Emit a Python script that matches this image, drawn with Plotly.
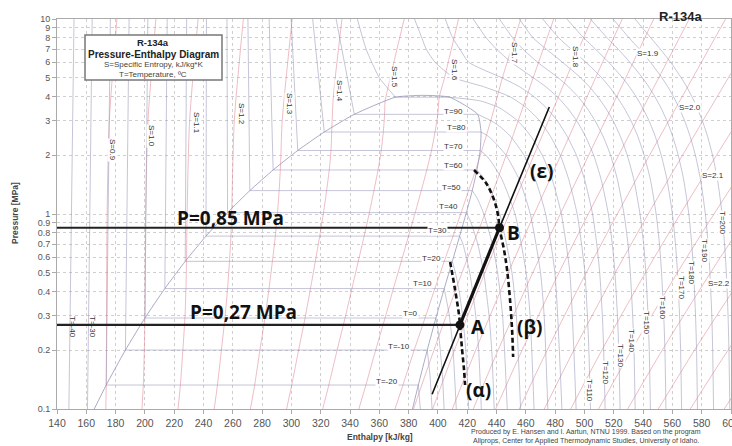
import plotly.graph_objects as go

# ---------------- DATA (R-134a) ----------------
# saturation dome: pressure [MPa], liquid / vapour enthalpy [kJ/kg]
sat_T  = [-26.4, -20, -10, 0, 10, 20, 30, 40, 50, 60, 70, 80, 90, 100]
sat_P  = [0.1, 0.1327, 0.2006, 0.2928, 0.4146, 0.5717, 0.7702, 1.0166, 1.3179, 1.6818, 2.1168, 2.6332, 3.2442, 3.972]
sat_hf = [165.4, 173.6, 186.7, 200.0, 213.6, 227.5, 241.7, 256.4, 271.6, 287.5, 304.3, 322.4, 342.9, 371.0]
sat_hg = [382.6, 386.6, 392.7, 398.6, 404.3, 409.8, 414.8, 419.4, 423.4, 426.6, 428.8, 429.4, 427.1, 408.0]
crit_P = 4.059
crit_h = 389.6

# liquid isotherms (T=-40..90): lower end (P, h) and h at 10 MPa
liq_T   = [-40, -30, -20, -10, 0, 10, 20, 30, 40, 50, 60, 70, 80, 90]
liq_P0  = [0.1, 0.1, 0.1327, 0.2006, 0.2928, 0.4146, 0.5717, 0.7702, 1.0166, 1.3179, 1.6818, 2.1168, 2.6332, 3.2442]
liq_h0  = [148.1, 160.8, 173.6, 186.7, 200.0, 213.6, 227.5, 241.7, 256.4, 271.6, 287.5, 304.3, 322.4, 342.9]
liq_h10 = [151.6, 164.0, 176.4, 189.2, 202.0, 215.2, 228.5, 242.0, 256.0, 270.3, 284.8, 299.8, 314.5, 330.5]
iso_T100_liq = [(3.972, 371.0), (5, 360.0), (7, 351.0), (10, 345.0)]

# vapour isotherms, (P, h) pairs
iso_Tm20 = [(0.1, 388.0), (0.1327, 386.6)]
iso_Tm10 = [(0.1, 396.0), (0.15, 394.5), (0.2006, 392.7)]
iso_T0   = [(0.1, 404.2), (0.15, 403.0), (0.2, 401.6), (0.25, 400.2), (0.2928, 398.6)]
iso_T10  = [(0.1, 412.5), (0.2, 410.3), (0.3, 407.8), (0.4146, 404.3)]
iso_T20  = [(0.1, 421.0), (0.2, 419.0), (0.3, 416.8), (0.4, 414.5), (0.5, 411.9), (0.5717, 409.8)]
iso_T30  = [(0.1, 429.6), (0.2, 427.8), (0.3, 425.8), (0.5, 421.7), (0.7, 417.1), (0.7702, 414.8)]
iso_T40  = [(0.1, 438.4), (0.2, 436.7), (0.3, 434.9), (0.5, 431.2), (0.7, 427.2), (0.9, 422.6), (1.0166, 419.4)]
iso_T50  = [(0.1, 447.3), (0.3, 444.1), (0.5, 440.7), (0.7, 437.1), (1.0, 431.3), (1.2, 426.9), (1.3179, 423.4)]
iso_T60  = [(0.1, 456.4), (0.3, 453.5), (0.5, 450.5), (1.0, 442.2), (1.3, 436.5), (1.5, 432.0), (1.6818, 426.6)]
iso_T70  = [(0.1, 465.6), (0.3, 462.9), (0.5, 460.2), (1.0, 452.6), (1.5, 443.8), (1.8, 437.5), (2.0, 432.8), (2.1168, 428.8)]
iso_T80  = [(0.1, 475.0), (0.3, 472.5), (0.5, 470.0), (1.0, 463.0), (1.5, 455.5), (2.0, 446.5), (2.3, 439.5), (2.5, 434.5), (2.6332, 429.4)]
iso_T90  = [(0.1, 484.6), (0.5, 479.8), (1.0, 473.5), (1.5, 466.5), (2.0, 458.8), (2.5, 449.5), (2.8, 442.5), (3.0, 436.5), (3.2442, 427.1)]
iso_T100 = [(0.1, 494.3), (0.5, 490.0), (1.0, 484.2), (1.5, 478.0), (2.0, 471.2), (2.5, 463.5), (3.0, 454.5), (3.5, 442.0), (3.8, 429.0), (3.972, 408.0)]

# supercritical / hot isotherms on a shared pressure list
P_SC   = [0.1, 0.2, 0.3, 0.5, 0.7, 1, 1.5, 2, 2.5, 3, 3.5, 4, 4.5, 5, 6, 7, 8, 10]
h_T110 = [504.1, 503.0, 502.0, 500.3, 498.0, 495.0, 489.3, 483.5, 476.8, 469.5, 460.5, 449.0, 431.0, 411.0, 398.0, 392.0, 389.0, 384.0]
h_T120 = [514.1, 513.1, 512.2, 510.4, 508.4, 505.5, 500.1, 494.5, 488.2, 481.5, 474.0, 465.5, 455.5, 443.5, 421.0, 415.0, 410.0, 405.0]
h_T130 = [524.3, 523.4, 522.5, 520.8, 519.0, 516.3, 511.4, 506.3, 500.7, 494.8, 488.3, 481.3, 473.5, 465.0, 450.0, 440.0, 433.0, 424.0]
h_T140 = [534.6, 533.8, 532.9, 531.3, 529.7, 527.0, 522.5, 517.8, 512.7, 507.3, 501.6, 495.5, 489.0, 482.0, 468.0, 458.0, 451.0, 442.0]
h_T150 = [545.0, 544.2, 543.4, 541.9, 540.4, 537.9, 533.7, 529.2, 524.5, 519.6, 514.4, 508.9, 503.2, 497.3, 485.0, 474.0, 465.0, 455.5]
h_T160 = [555.6, 554.9, 554.1, 552.6, 551.2, 548.9, 545.0, 540.7, 536.4, 531.8, 527.0, 522.0, 516.9, 511.7, 501.0, 491.0, 482.5, 471.5]
h_T170 = [566.3, 565.6, 564.9, 563.5, 562.1, 560.0, 556.3, 552.4, 548.3, 544.1, 539.7, 535.2, 530.6, 525.9, 516.5, 507.5, 499.5, 488.0]
h_T180 = [577.1, 576.5, 575.8, 574.5, 573.2, 571.2, 567.7, 564.0, 560.2, 556.3, 552.2, 548.0, 543.8, 539.5, 531.0, 523.0, 515.5, 504.0]
h_T190 = [588.1, 587.5, 586.9, 585.6, 584.4, 582.5, 579.2, 575.7, 572.1, 568.4, 564.6, 560.7, 556.8, 552.8, 545.0, 537.5, 530.5, 519.5]
h_T200 = [599.2, 598.6, 598.0, 596.8, 595.6, 593.9, 590.8, 587.4, 584.0, 580.5, 576.9, 573.3, 569.7, 566.0, 558.8, 551.8, 545.3, 534.5]

# isentropes, (P, h) pairs
isen_090 = [(0.1, 173.3), (0.1327, 173.6), (1, 174.2), (3, 175.7), (10, 180.9)]
isen_100 = [(0.1, 198.0), (0.1327, 198.9), (0.2006, 199.6), (0.2928, 200.0), (1, 200.5), (3, 202.1), (10, 207.5)]
isen_110 = [(0.1, 222.6), (0.1327, 224.2), (0.2006, 225.9), (0.2928, 227.3), (0.4146, 228.0), (0.58, 228.4), (1, 228.8), (3, 230.5), (10, 236.3)]
isen_120 = [(0.1, 247.3), (0.1327, 249.5), (0.2006, 252.2), (0.2928, 254.6), (0.4146, 256.4), (0.5717, 257.7), (0.7702, 258.7), (1.07, 259.3), (3, 261.0), (10, 267.2)]
isen_130 = [(0.1, 272.0), (0.1327, 274.9), (0.2006, 278.5), (0.2928, 281.9), (0.4146, 284.7), (0.5717, 287.0), (0.7702, 289.0), (1.0166, 290.5), (1.3179, 291.6), (1.8, 292.6), (3, 293.7), (10, 300.5)]
isen_140 = [(0.1, 296.7), (0.1327, 300.2), (0.2006, 304.9), (0.2928, 309.3), (0.4146, 313.0), (0.5717, 316.3), (0.7702, 319.3), (1.0166, 321.9), (1.3179, 324.0), (1.6818, 325.8), (2.1168, 327.0), (2.78, 327.6), (4, 328.6), (10, 334.5)]
isen_150 = [(0.1, 321.3), (0.1327, 325.5), (0.2006, 331.2), (0.2928, 336.6), (0.4146, 341.3), (0.5717, 345.6), (0.7702, 349.6), (1.0166, 353.2), (1.3179, 356.3), (1.6818, 359.1), (2.1168, 361.3), (2.6332, 362.7), (3.2442, 363.6), (3.78, 363.9), (5, 367.5), (7, 372.0), (10, 377.0)]
isen_160 = [(0.1, 346.0), (0.1327, 350.8), (0.2006, 357.5), (0.2928, 363.9), (0.4146, 369.6), (0.5717, 375.0), (0.7702, 379.9), (1.0166, 384.5), (1.3179, 388.6), (1.6818, 392.4), (2.1168, 395.6), (2.6332, 398.0), (3.2442, 399.9), (3.972, 400.9), (5, 404.5), (6, 407.0), (8, 411.0), (10, 414.0)]
isen_170 = [(0.1, 370.7), (0.1327, 376.1), (0.2006, 383.8), (0.2928, 391.2), (0.4146, 397.9), (0.5717, 404.3), (0.7702, 410.3), (1.0166, 415.8), (1.3179, 420.9), (1.6818, 425.8), (1.84, 427.4), (3, 436.0), (5, 444.0), (7, 450.0), (10, 456.5)]
isen_175 = [(0.1, 383.3), (0.2, 397.2), (0.5, 416.4), (1, 432.0), (2, 446.5), (5, 465.0), (10, 479.0)]
isen_180 = [(0.1, 396.4), (0.2, 411.2), (0.5, 432.0), (1, 448.6), (2, 465.5), (5, 487.7), (10, 504.9)]
isen_185 = [(0.1, 409.8), (0.2, 425.7), (0.5, 448.0), (1, 465.7), (2, 483.8), (5, 507.6), (10, 525.8)]
isen_190 = [(0.1, 424.1), (0.2, 441.0), (0.5, 464.7), (1, 483.5), (2, 502.8), (5, 528.2), (10, 547.3)]
isen_195 = [(0.1, 439.4), (0.2, 457.4), (0.5, 482.6), (1, 502.6), (2, 523.3), (5, 550.7), (10, 571.5)]
isen_200 = [(0.1, 455.5), (0.2, 474.5), (0.5, 501.2), (1, 522.4), (2, 544.4), (5, 573.9), (10, 596.3)]
isen_205 = [(0.1, 472.6), (0.2, 492.7), (0.5, 521.0), (1, 543.5), (2, 566.9), (5, 598.2), (10, 621.7)]
isen_210 = [(0.1, 490.6), (0.2, 511.8), (0.5, 541.6), (1, 565.4), (2, 590.1), (5, 623.3)]
isen_215 = [(0.1, 509.6), (0.2, 532.0), (0.5, 563.4), (1, 588.4), (2, 614.4)]
isen_220 = [(0.1, 529.5), (0.2, 553.0), (0.5, 586.0), (1, 612.2)]
isen_225 = [(0.1, 550.4), (0.2, 575.0), (0.5, 609.4)]
isen_230 = [(0.1, 572.2), (0.2, 597.9), (0.5, 633.9)]
isen_235 = [(0.1, 595.3), (0.2, 622.1)]

# process annotations
p_levels   = [0.85, 0.27]          # MPa
state_h    = [442.0, 415.0]        # B, A
state_P    = [0.85, 0.27]
eps_h      = [396.0, 415.0, 442.0, 476.0]
eps_P      = [0.119, 0.27, 0.85, 3.54]
alpha_h    = [408.3, 411.7, 414.4, 415.0, 416.5, 417.8, 418.5]
alpha_P    = [0.567, 0.408, 0.303, 0.27, 0.2007, 0.1585, 0.1327]
beta_h     = [424.6, 432.8, 438.3, 441.0, 442.0, 445.1, 447.2, 449.2, 450.6, 451.3]
beta_P     = [1.681, 1.442, 1.18, 0.988, 0.85, 0.6535, 0.516, 0.362, 0.254, 0.1848]

x_ticks = list(range(140, 601, 20))
y_ticks = [0.1, 0.2, 0.3, 0.4, 0.5, 0.6, 0.7, 0.8, 0.9, 1, 2, 3, 4, 5, 6, 7, 8, 9, 10]
y_tick_text = ["0.1", "0.2", "0.3", "0.4", "0.5", "0.6", "0.7", "0.8", "0.9", "1", "2", "3", "4", "5", "6", "7", "8", "9", "10"]

# ---------------- BUILD ----------------
W, H = 732, 446
ML, MR, MT, MB = 57, 1, 19, 37

def px(x):
    return (x - ML) / (W - ML - MR)

def py(y):
    return (H - MB - y) / (H - MT - MB)

iso_x, iso_y = [], []
def add(xs, ys, X, Y):
    X.extend(list(xs) + [None])
    Y.extend(list(ys) + [None])

for P0, h0, h10 in zip(liq_P0, liq_h0, liq_h10):
    add([h0, h10], [P0, 10], iso_x, iso_y)
add([p[1] for p in iso_T100_liq], [p[0] for p in iso_T100_liq], iso_x, iso_y)
for i in range(1, len(sat_P)):
    add([sat_hf[i], sat_hg[i]], [sat_P[i], sat_P[i]], iso_x, iso_y)
for curve in [iso_Tm20, iso_Tm10, iso_T0, iso_T10, iso_T20, iso_T30, iso_T40, iso_T50,
              iso_T60, iso_T70, iso_T80, iso_T90, iso_T100]:
    add([p[1] for p in curve], [p[0] for p in curve], iso_x, iso_y)
for hs in [h_T110, h_T120, h_T130, h_T140, h_T150, h_T160, h_T170, h_T180, h_T190, h_T200]:
    add(hs, P_SC, iso_x, iso_y)

isen_x, isen_y = [], []
for curve in [isen_090, isen_100, isen_110, isen_120, isen_130, isen_140, isen_150, isen_160,
              isen_170, isen_175, isen_180, isen_185, isen_190, isen_195, isen_200, isen_205,
              isen_210, isen_215, isen_220, isen_225, isen_230, isen_235]:
    add([p[1] for p in curve], [p[0] for p in curve], isen_x, isen_y)

dome_x = sat_hf + [crit_h] + sat_hg[::-1]
dome_y = sat_P + [crit_P] + sat_P[::-1]

fig = go.Figure()
fig.add_trace(go.Scatter(x=isen_x, y=isen_y, mode="lines", hoverinfo="skip",
                         line=dict(color="rgba(222,135,148,0.62)", width=0.9, shape="spline", smoothing=0.7)))
fig.add_trace(go.Scatter(x=iso_x, y=iso_y, mode="lines", hoverinfo="skip",
                         line=dict(color="rgba(150,150,185,0.62)", width=0.9, shape="spline", smoothing=0.6)))
fig.add_trace(go.Scatter(x=dome_x, y=dome_y, mode="lines", hoverinfo="skip",
                         line=dict(color="rgba(150,150,185,0.8)", width=1.0, shape="spline", smoothing=0.5)))

for P, h in zip(p_levels, state_h):
    fig.add_trace(go.Scatter(x=[140, h], y=[P, P], mode="lines", hoverinfo="skip",
                             line=dict(color="#222", width=2.2)))
fig.add_trace(go.Scatter(x=eps_h, y=eps_P, mode="lines", hoverinfo="skip",
                         line=dict(color="#111", width=1.6)))
fig.add_trace(go.Scatter(x=eps_h[1:3], y=eps_P[1:3], mode="lines", hoverinfo="skip",
                         line=dict(color="#111", width=3.2)))
fig.add_trace(go.Scatter(x=alpha_h, y=alpha_P, mode="lines", hoverinfo="skip",
                         line=dict(color="#111", width=2.6, dash="5px,3px", shape="spline")))
fig.add_trace(go.Scatter(x=beta_h, y=beta_P, mode="lines", hoverinfo="skip",
                         line=dict(color="#111", width=2.6, dash="5px,3px", shape="spline")))
fig.add_trace(go.Scatter(x=state_h, y=state_P, mode="markers", hoverinfo="skip",
                         marker=dict(color="#111", size=9)))

ann = []
def lab(text, x, y, size=8, angle=0, color="#333", bold=False, family="Liberation Sans, Arial", bg="white"):
    t = f"<b>{text}</b>" if bold else text
    ann.append(dict(text=t, x=px(x), y=py(y), xref="paper", yref="paper", showarrow=False,
                    xanchor="center", yanchor="middle", textangle=angle,
                    font=dict(size=size, color=color, family=family),
                    bgcolor=bg, borderpad=0))

for t, x, y in [("T=90", 453, 111), ("T=80", 457, 127), ("T=70", 453, 146), ("T=60", 453, 165),
                ("T=50", 451, 187), ("T=40", 448, 207), ("T=30", 437, 230), ("T=20", 432, 258),
                ("T=10", 422, 283), ("T=0", 410, 313), ("T=-10", 399, 346), ("T=-20", 387, 381)]:
    lab(t, x, y)
for t, x, y in [("T=-40", 73, 327), ("T=-30", 93, 327)]:
    lab(t, x, y, angle=90, bg=None)
for t, x, y in [("T=110", 590, 390), ("T=120", 606, 372),
                ("T=130", 621, 355), ("T=140", 632, 340), ("T=150", 647, 322), ("T=160", 663, 307),
                ("T=170", 682, 287), ("T=180", 692, 272), ("T=190", 705, 250), ("T=200", 722, 222),
                ("S=0.9", 113, 150), ("S=1.0", 152, 136), ("S=1.1", 197, 123), ("S=1.2", 242, 114),
                ("S=1.3", 290, 104), ("S=1.4", 340, 91), ("S=1.5", 395, 77), ("S=1.6", 455, 70),
                ("S=1.7", 515, 53), ("S=1.8", 575, 57)]:
    lab(t, x, y, angle=90)
for t, x, y in [("S=1.9", 648, 53), ("S=2.0", 690, 108), ("S=2.1", 713, 175), ("S=2.2", 719, 283)]:
    lab(t, x, y)

BIG = "Open Sans, Liberation Sans, Arial"
lab("P=0,85 MPa", 230, 218, size=19, bold=True, color="#111", family=BIG, bg=None)
lab("P=0,27 MPa", 244, 312, size=19, bold=True, color="#111", family=BIG, bg=None)
lab("A", 478, 327, size=19, bold=True, color="#111", family=BIG, bg=None)
lab("B", 513, 233, size=19, bold=True, color="#111", family=BIG, bg=None)
lab("(β)", 529, 327, size=19, bold=True, color="#111", family=BIG, bg=None)
lab("(α)", 478, 390, size=19, bold=True, color="#111", family=BIG, bg=None)
lab("(ε)", 541, 171, size=19, bold=True, color="#111", family=BIG, bg=None)

lab("R-134a", 153, 42, size=9.5, bold=True, color="#222", bg=None)
lab("Pressure-Enthalpy Diagram", 153, 54, size=10, bold=True, color="#222", bg=None)
lab("S=Specific Entropy, kJ/kg*K", 153, 64, size=8, color="#444", bg=None)
lab("T=Temperature, ºC", 153, 74, size=8, color="#444", bg=None)
lab("R-134a", 680, 16, size=13, bold=True, color="#222", bg=None)
lab("Produced by E. Hansen and I. Aartun, NTNU 1999. Based on the program", 586, 432, size=7, color="#444", bg=None)
lab("Allprops, Center for Applied Thermodynamic Studies, University of Idaho.", 586, 441, size=7, color="#444", bg=None)
lab("Enthalpy [kJ/kg]", 380, 437, size=8.5, bold=True, color="#444", bg=None)
lab("Pressure [MPa]", 15, 213, size=8.5, bold=True, angle=-90, color="#444", bg=None)

fig.update_layout(
    width=W, height=H, margin=dict(l=ML, r=MR, t=MT, b=MB, autoexpand=False),
    paper_bgcolor="white", plot_bgcolor="white", showlegend=False,
    annotations=ann,
    shapes=[dict(type="rect", xref="paper", yref="paper", x0=px(85), x1=px(222), y0=py(80), y1=py(35),
                 line=dict(color="#777", width=1.5), fillcolor="white", layer="above")],
    xaxis=dict(range=[140, 600], tickvals=x_ticks, showgrid=True, gridcolor="#cfcfcf", griddash="dot",
               gridwidth=1, zeroline=False, showline=True, linecolor="#aaa", mirror=True,
               ticks="outside", ticklen=4, tickcolor="#aaa", ticklabeloverflow="allow", automargin=False,
               tickfont=dict(size=10.5, color="#555", family="Liberation Sans, Arial")),
    yaxis=dict(type="log", range=[-1, 1], tickvals=y_ticks, ticktext=y_tick_text, showgrid=True,
               gridcolor="#cfcfcf", griddash="dot", gridwidth=1, zeroline=False, showline=True,
               linecolor="#aaa", mirror=True, ticks="outside", ticklen=4, tickcolor="#aaa", automargin=False,
               tickfont=dict(size=9, color="#555", family="Liberation Sans, Arial")),
)
fig.write_html("out.html")
